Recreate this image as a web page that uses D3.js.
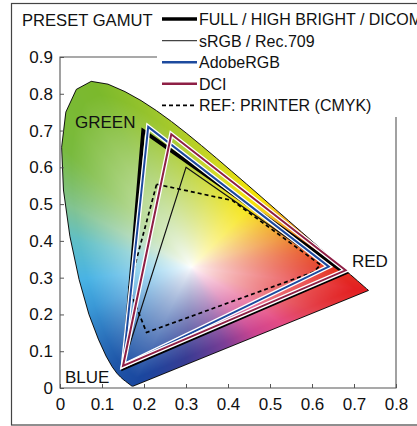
<!DOCTYPE html>
<html><head><meta charset="utf-8">
<script src="https://cdn.jsdelivr.net/npm/d3@7"></script>
<style>
html,body{margin:0;padding:0;background:#fff;}
svg{display:block;font-family:"Liberation Sans",Arial,Helvetica,sans-serif;}
</style></head><body>
<svg id="chart" width="417" height="426"></svg>
<script>
// ---------- DATA ----------
// CIE 1931 2° spectral locus (380–700 nm)
const locusX = [0.1741,0.1740,0.1738,0.1736,0.1733,0.1730,0.1726,0.1721,0.1714,0.1703,0.1689,0.1669,0.1644,0.1611,0.1566,0.1510,0.1440,0.1355,0.1241,0.1096,0.0913,0.0687,0.0454,0.0235,0.0082,0.0039,0.0139,0.0389,0.0743,0.1142,0.1547,0.1929,0.2296,0.2658,0.3016,0.3373,0.3731,0.4087,0.4441,0.4788,0.5125,0.5448,0.5752,0.6029,0.6270,0.6482,0.6658,0.6801,0.6915,0.7006,0.7079,0.7140,0.7190,0.7230,0.7260,0.7300,0.7334,0.7347];
const locusY = [0.0050,0.0050,0.0049,0.0049,0.0048,0.0048,0.0048,0.0048,0.0051,0.0058,0.0069,0.0086,0.0109,0.0138,0.0177,0.0227,0.0297,0.0399,0.0578,0.0868,0.1327,0.2007,0.2950,0.4127,0.5384,0.6548,0.7502,0.8120,0.8338,0.8262,0.8059,0.7816,0.7543,0.7243,0.6923,0.6589,0.6245,0.5896,0.5547,0.5202,0.4866,0.4544,0.4242,0.3965,0.3725,0.3514,0.3340,0.3197,0.3083,0.2993,0.2920,0.2859,0.2809,0.2770,0.2740,0.2700,0.2666,0.2653];

const xTicks = [0,0.1,0.2,0.3,0.4,0.5,0.6,0.7,0.8];
const yTicks = [0,0.1,0.2,0.3,0.4,0.5,0.6,0.7,0.8,0.9];

const legendTitle = "PRESET GAMUT";
const seriesNames = ["FULL / HIGH BRIGHT / DICOM","sRGB / Rec.709","AdobeRGB","DCI","REF: PRINTER (CMYK)"];

const fullGamut  = [[0.198,0.699],[0.679,0.313],[0.151,0.054]];
const srgbGamut  = [[0.300,0.600],[0.640,0.330],[0.150,0.060]];
const adobeGamut = [[0.210,0.710],[0.640,0.330],[0.150,0.060]];
const dciGamut   = [[0.265,0.690],[0.680,0.320],[0.150,0.060]];
const cmykGamut  = [[0.230,0.554],[0.410,0.510],[0.620,0.335],[0.605,0.316],[0.206,0.151],[0.164,0.272]];

const primaryLabels = ["GREEN","RED","BLUE"];
const whitePoint = [0.3127,0.3290];

// ---------- LAYOUT / STYLE ----------
const W = 417, H = 426;
const m = {left:60, top:57, right:396, bottom:388};
const svg = d3.select("#chart");
const x = d3.scaleLinear().domain([0,0.8]).range([m.left,m.right]);
const y = d3.scaleLinear().domain([0,0.9]).range([m.bottom,m.top]);

// hue ring (angle from white point, degrees) -> edge colour
const hueRing = [
 [0,"#e43a24"],[8,"#e8582a"],[20,"#ee8c2a"],[38,"#f4c61c"],[49,"#f6e206"],[60,"#ece10e"],
 [78,"#cfd821"],[100,"#a0c72c"],[115,"#7bb92c"],[133,"#79ba3e"],[150,"#82c390"],[165,"#60bfc6"],
 [187,"#49b3e4"],[205,"#3a98d6"],[222,"#2c74bd"],[236,"#1f56a8"],[248,"#1a479f"],[267,"#383c93"],
 [291,"#7c3e96"],[310,"#cc4590"],[325,"#e44c84"],[338,"#e4434e"],[348,"#e3292a"],[351.4,"#e31f22"],[360,"#e43a24"]
];
function ringColor(deg){
  deg = ((deg%360)+360)%360;
  for(let i=0;i<hueRing.length-1;i++){
    const a=hueRing[i], b=hueRing[i+1];
    if(deg>=a[0] && deg<=b[0]){
      const t=(deg-a[0])/(b[0]-a[0]||1);
      return d3.rgb(d3.interpolateRgb(a[1],b[1])(t));
    }
  }
  return d3.rgb(hueRing[0][1]);
}

const locusPts = locusX.map((v,i)=>[v,locusY[i]]);

// boundary radius per angle
const NB = 1440;
const bound = new Float64Array(NB);
for(let k=0;k<NB;k++){
  const th = k/NB*2*Math.PI, dx=Math.cos(th), dy=Math.sin(th);
  let best=0;
  for(let i=0;i<locusPts.length;i++){
    const a=locusPts[i], b=locusPts[(i+1)%locusPts.length];
    const ex=b[0]-a[0], ey=b[1]-a[1];
    const den = dx*ey - dy*ex;
    if(Math.abs(den)<1e-12) continue;
    const wx=a[0]-whitePoint[0], wy=a[1]-whitePoint[1];
    const t=(wx*ey - wy*ex)/den;
    const u=(wx*dy - wy*dx)/den;
    if(t>0 && u>=0 && u<=1 && t>best) best=t;
  }
  bound[k]=best;
}

// colour field
const cw = m.right-m.left, ch = m.bottom-m.top;
const canvas = document.createElement("canvas");
canvas.width=cw; canvas.height=ch;
const ctx = canvas.getContext("2d");
const img = ctx.createImageData(cw,ch);
for(let j=0;j<ch;j++){
  const dyv = y.invert(m.top+j+0.5);
  for(let i=0;i<cw;i++){
    const dxv = x.invert(m.left+i+0.5);
    if(!d3.polygonContains(locusPts,[dxv,dyv])) continue;
    const rx=dxv-whitePoint[0], ry=dyv-whitePoint[1];
    let th=Math.atan2(ry,rx); if(th<0) th+=2*Math.PI;
    const kf=th/(2*Math.PI)*NB, k0=Math.floor(kf)%NB, k1=(k0+1)%NB, f=kf-Math.floor(kf);
    const R = bound[k0]*(1-f)+bound[k1]*f;
    const s = Math.min(1, Math.hypot(rx,ry)/R);
    const t = Math.min(1, 1.06*Math.pow(s,0.78));
    const c = ringColor(th*180/Math.PI);
    const p=(j*cw+i)*4;
    img.data[p]  = 255*(1-t)+c.r*t;
    img.data[p+1]= 255*(1-t)+c.g*t;
    img.data[p+2]= 255*(1-t)+c.b*t;
    img.data[p+3]= 255;
  }
}
ctx.putImageData(img,0,0);

svg.append("rect").attr("width",W).attr("height",H).attr("fill","#fff");
svg.append("rect").attr("x",11.5).attr("y",3.5).attr("width",430).attr("height",421.5)
   .attr("fill","none").attr("stroke","#444").attr("stroke-width",1.2);

svg.append("image").attr("x",m.left).attr("y",m.top).attr("width",cw).attr("height",ch)
   .attr("href",canvas.toDataURL());

const line = d3.line().x(d=>x(d[0])).y(d=>y(d[1]));
const closed = pts => line(pts)+"Z";

// locus outline
svg.append("path").attr("d",closed(locusPts)).attr("fill","none").attr("stroke","#111").attr("stroke-width",1);

// frame
svg.append("path").attr("d",`M157,${m.top}H${m.left}V${m.bottom}H${m.right}V117`)
   .attr("fill","none").attr("stroke","#555").attr("stroke-width",1.1);

// axes
const fmt = d => d===0 ? "0" : d3.format(".1f")(d);
const gx = svg.append("g").attr("transform",`translate(0,${m.bottom})`)
  .call(d3.axisBottom(x).tickValues(xTicks).tickFormat(fmt).tickSizeInner(-4).tickSizeOuter(0).tickPadding(10));
const gy = svg.append("g").attr("transform",`translate(${m.left},0)`)
  .call(d3.axisLeft(y).tickValues(yTicks).tickFormat(fmt).tickSizeInner(-4).tickSizeOuter(0).tickPadding(7));
[gx,gy].forEach(g=>{
  g.select(".domain").remove();
  g.selectAll("line").attr("stroke","#555");
  g.selectAll("text").attr("font-size",17).attr("fill","#111").attr("font-family","Liberation Sans, Arial, sans-serif");
});

// gamuts
const gg = svg.append("g").attr("fill","none").attr("stroke-linejoin","miter").attr("stroke-miterlimit",10);
gg.append("path").attr("d",closed(fullGamut)).attr("stroke","#000").attr("stroke-width",3.8);
gg.append("path").attr("d",closed(srgbGamut)).attr("stroke","#111").attr("stroke-width",1.2);
gg.append("path").attr("d",closed(cmykGamut)).attr("stroke","#000").attr("stroke-width",1.7).attr("stroke-dasharray","4,3");
gg.append("path").attr("d",closed(adobeGamut)).attr("stroke","#fff").attr("stroke-width",4.6);
gg.append("path").attr("d",closed(adobeGamut)).attr("stroke","#1d4a9e").attr("stroke-width",2);
gg.append("path").attr("d",closed(dciGamut)).attr("stroke","#fff").attr("stroke-width",4.6);
gg.append("path").attr("d",closed(dciGamut)).attr("stroke","#8e1f45").attr("stroke-width",2);

// primary labels
const lab = svg.append("g").attr("font-size",17).attr("fill","#111");
lab.append("text").attr("x",75).attr("y",128).text(primaryLabels[0]);
lab.append("text").attr("x",352).attr("y",267).text(primaryLabels[1]);
lab.append("text").attr("x",65).attr("y",383).text(primaryLabels[2]);

// legend
const leg = svg.append("g").attr("font-size",16).attr("fill","#111");
leg.append("text").attr("x",22).attr("y",26).attr("font-size",16.6).text(legendTitle);
const legStyles = [
  {stroke:"#000",w:3.6,dash:null},
  {stroke:"#444",w:1.3,dash:null},
  {stroke:"#1d4a9e",w:2.4,dash:null},
  {stroke:"#8e1f45",w:2.4,dash:null},
  {stroke:"#000",w:1.6,dash:"4,3"}
];
seriesNames.forEach((n,i)=>{
  const cy = 19 + i*21.6;
  const st = legStyles[i];
  leg.append("line").attr("x1",162).attr("x2",197).attr("y1",cy).attr("y2",cy)
     .attr("stroke",st.stroke).attr("stroke-width",st.w).attr("stroke-dasharray",st.dash);
  leg.append("text").attr("x",199).attr("y",cy+6).text(n);
});
</script>
</body></html>
